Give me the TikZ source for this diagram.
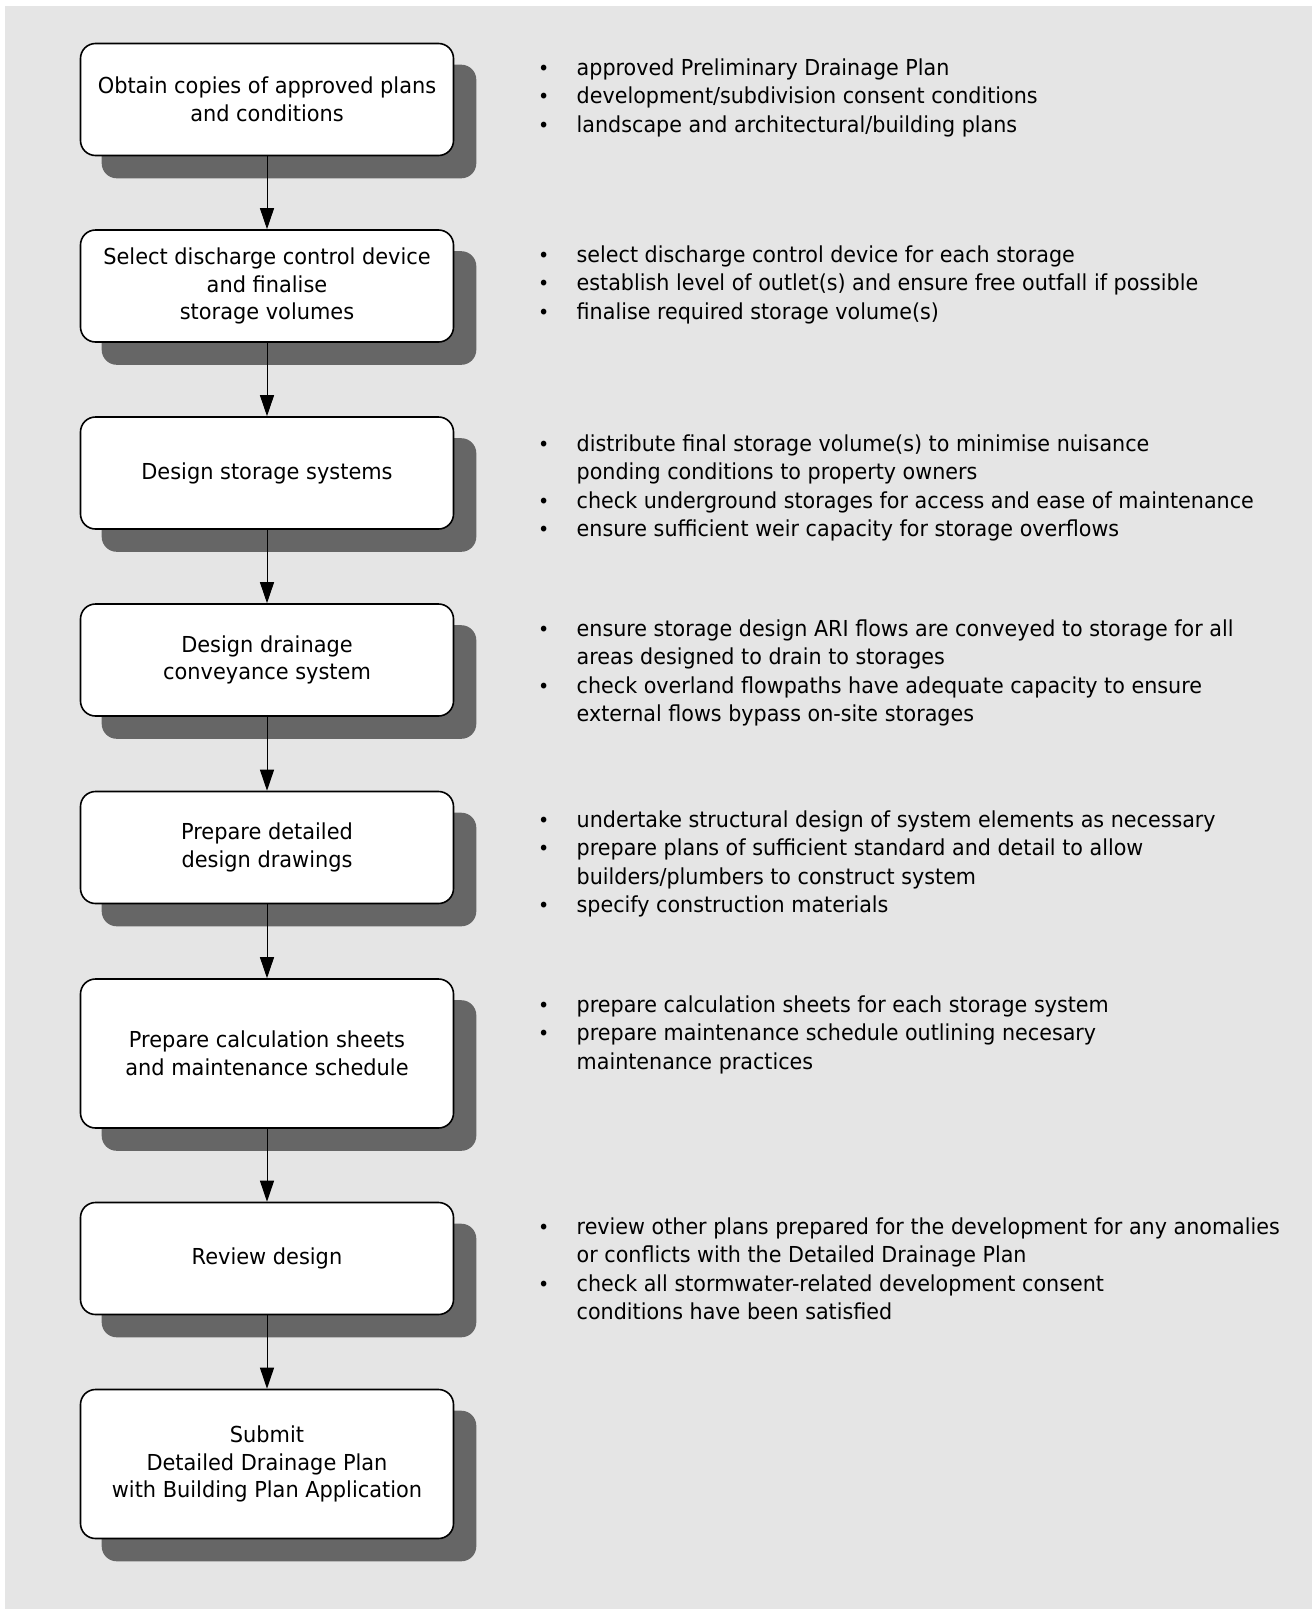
\documentclass[tikz,border=0pt]{standalone}
\usepackage{fontspec}
\setmainfont{DejaVu Sans}
\newfontfamily\boxfont[FakeStretch=0.95]{DejaVu Sans}
\newfontfamily\bulfont[FakeStretch=0.94]{DejaVu Sans}
\usetikzlibrary{arrows.meta,backgrounds}
\definecolor{pagegray}{HTML}{E5E5E5}
\definecolor{shadowgray}{HTML}{666666}
\newcommand\bitem[1]{\hbox{\makebox[38.5pt][l]{\boxfont\fontsize{20}{20}\selectfont •}#1}}
\newcommand\bcont[1]{\hbox{\hspace*{38.5pt}#1}}
\newcommand\blist[1]{\vtop{\bulfont\fontsize{22}{28.5}\selectfont #1}}
\begin{document}
\begin{tikzpicture}[x=1pt,y=-1pt,
  stepbox/.style={draw=black, line width=1.6pt, fill=white, rounded corners=15pt,
    minimum width=373pt, minimum height=112pt, inner sep=0pt, align=center,
    font=\boxfont\fontsize{22}{27.5}\selectfont},
  tallbox/.style={stepbox, minimum height=149pt},
  flow/.style={-{Triangle[length=21pt,width=14pt]}, line width=1pt},
  bul/.style={anchor=base west, inner sep=0pt}]
\useasboundingbox (0,0) rectangle (1312,1609);

\node[stepbox] (s1) at (267,99.5) {Obtain copies of approved plans\\and conditions};
\node[stepbox] (s2) at (267,286) {Select discharge control device\\and finalise\\storage volumes};
\node[stepbox] (s3) at (267,473) {Design storage systems};
\node[stepbox] (s4) at (267,660) {Design drainage\\conveyance system};
\node[stepbox] (s5) at (267,847.5) {Prepare detailed\\design drawings};
\node[tallbox] (s6) at (267,1053.5) {Prepare calculation sheets\\and maintenance schedule};
\node[stepbox] (s7) at (267,1258.5) {Review design};
\node[tallbox] (s8) at (267,1464) {Submit\\Detailed Drainage Plan\\with Building Plan Application};

\foreach \a/\b in {s1/s2,s2/s3,s3/s4,s4/s5,s5/s6,s6/s7,s7/s8}
  \draw[flow] (\a.south) -- (\b.north);

\begin{scope}[on background layer]
  \fill[white] (0,0) rectangle (1312,1609);
  \fill[pagegray] (5,6) rectangle (1312,1609);
  \foreach \n in {s1,s2,s3,s4,s5,s6,s7,s8}
    \fill[shadowgray, rounded corners=15pt]
      ([shift={(22,22)}]\n.north west) rectangle ([shift={(22,22)}]\n.south east);
\end{scope}

\node[bul] (t1) at (538,75) {\blist{%
  \bitem{approved Preliminary Drainage Plan}
  \bitem{development/subdivision consent conditions}
  \bitem{landscape and architectural/building plans}}};
\node[bul] (t2) at (538,262) {\blist{%
  \bitem{select discharge control device for each storage}
  \bitem{establish level of outlet(s) and ensure free outfall if possible}
  \bitem{finalise required storage volume(s)}}};
\node[bul] (t3) at (538,451) {\blist{%
  \bitem{distribute final storage volume(s) to minimise nuisance}
  \bcont{ponding conditions to property owners}
  \bitem{check underground storages for access and ease of maintenance}
  \bitem{ensure sufficient weir capacity for storage overflows}}};
\node[bul] (t4) at (538,636) {\blist{%
  \bitem{ensure storage design ARI flows are conveyed to storage for all}
  \bcont{areas designed to drain to storages}
  \bitem{check overland flowpaths have adequate capacity to ensure}
  \bcont{external flows bypass on-site storages}}};
\node[bul] (t5) at (538,827) {\blist{%
  \bitem{undertake structural design of system elements as necessary}
  \bitem{prepare plans of sufficient standard and detail to allow}
  \bcont{builders/plumbers to construct system}
  \bitem{specify construction materials}}};
\node[bul] (t6) at (538,1012) {\blist{%
  \bitem{prepare calculation sheets for each storage system}
  \bitem{prepare maintenance schedule outlining necesary}
  \bcont{maintenance practices}}};
\node[bul] (t7) at (538,1234) {\blist{%
  \bitem{review other plans prepared for the development for any anomalies}
  \bcont{or conflicts with the Detailed Drainage Plan}
  \bitem{check all stormwater-related development consent}
  \bcont{conditions have been satisfied}}};
\end{tikzpicture}
\end{document}
